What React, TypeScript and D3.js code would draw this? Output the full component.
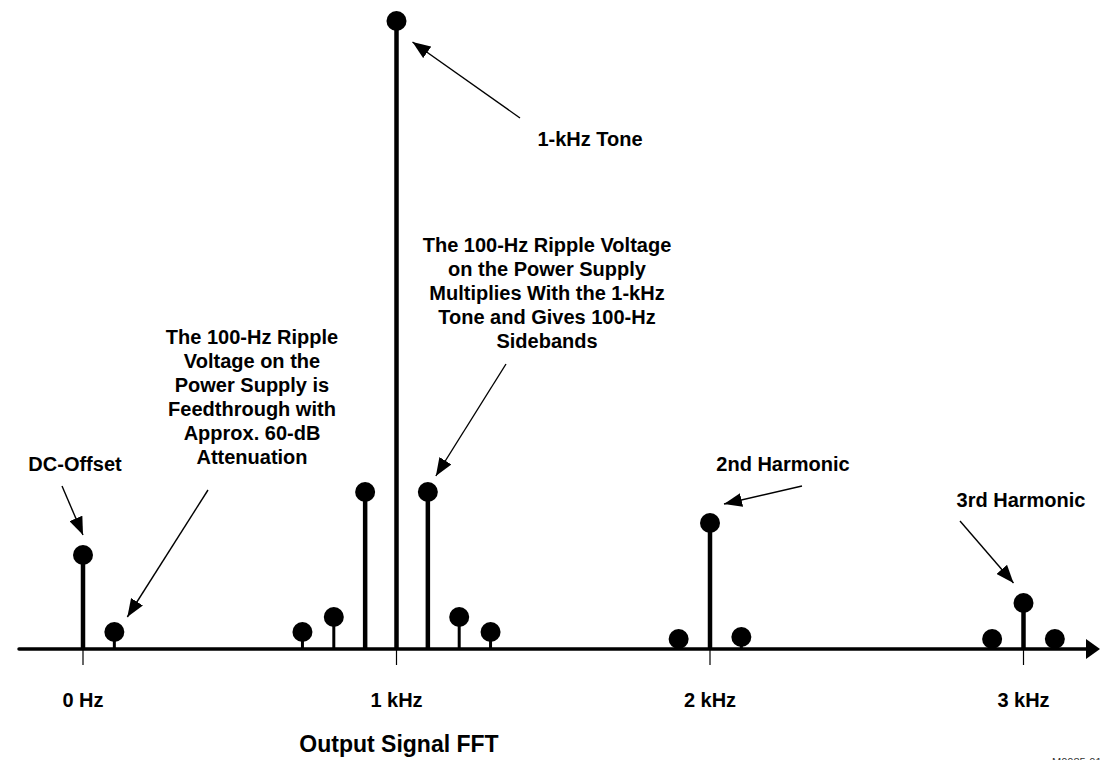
import React from "react";
import { scaleLinear, line } from "d3";

// spectrum lines (Hz) and their relative amplitudes
const freqs = [0, 100, 700, 800, 900, 1000, 1100, 1200, 1300, 1900, 2000, 2100, 2900, 3000, 3100];
const amplitudes = [94, 17, 17, 32, 157, 628, 157, 32, 17, 10, 126, 12, 10, 46, 10];

const tickFreqs = [0, 1000, 2000, 3000];
const tickLabels = ["0 Hz", "1 kHz", "2 kHz", "3 kHz"];

// callouts: which line they point at, and their text
const notes = [
  { target: 0, lines: ["DC-Offset"], tx: 75, ty: 471, from: [62, 486], tip: [0, -20] },
  {
    target: 1,
    lines: ["The 100-Hz Ripple", "Voltage on the", "Power Supply is", "Feedthrough with", "Approx. 60-dB", "Attenuation"],
    tx: 252, ty: 344, from: [208, 490], tip: [13, -15],
  },
  { target: 5, lines: ["1-kHz Tone"], tx: 590, ty: 146, from: [520, 118], tip: [16, 21] },
  {
    target: 6,
    lines: ["The 100-Hz Ripple Voltage", "on the Power Supply", "Multiplies With the 1-kHz", "Tone and Gives 100-Hz", "Sidebands"],
    tx: 547, ty: 252, from: [506, 364], tip: [8, -16],
  },
  { target: 10, lines: ["2nd Harmonic"], tx: 783, ty: 471, from: [802, 486], tip: [14, -19] },
  { target: 13, lines: ["3rd Harmonic"], tx: 1021, ty: 507, from: [960, 521], tip: [-10, -20] },
];

const W = 1103;
const H = 760;
const axisY = 649;
const font = "'Liberation Sans', Arial, sans-serif";

export default function App() {
  const x = scaleLinear().domain([0, 3000]).range([83, 1023.5]);
  const y = scaleLinear().domain([0, 628]).range([axisY, 21]);
  const arrow = line();

  return (
    <svg width={W} height={H} style={{ position: "absolute", left: 0, top: 0, background: "#fff" }}>
      <defs>
        <marker id="head" viewBox="0 0 18 14" refX="18" refY="7" markerWidth="18" markerHeight="14"
          markerUnits="userSpaceOnUse" orient="auto">
          <path d="M0,0 L18,7 L0,14 Z" fill="#000" />
        </marker>
        <marker id="axhead" viewBox="0 0 14 20" refX="2" refY="10" markerWidth="14" markerHeight="20"
          markerUnits="userSpaceOnUse" orient="auto">
          <path d="M0,0 L14,10 L0,20 Z" fill="#000" />
        </marker>
      </defs>

      {/* x axis with arrow */}
      <line x1={19} x2={1088} y1={axisY} y2={axisY} stroke="#000" strokeWidth={3.5}
        strokeLinecap="round" markerEnd="url(#axhead)" />
      {tickFreqs.map((f, i) => (
        <g key={f}>
          <line x1={x(f)} x2={x(f)} y1={axisY} y2={665} stroke="#000" strokeWidth={1.2} />
          <text x={x(f)} y={707} textAnchor="middle" fontFamily={font} fontWeight="bold" fontSize={20}>
            {tickLabels[i]}
          </text>
        </g>
      ))}

      {/* stems */}
      {freqs.map((f, i) => (
        <g key={f}>
          <line x1={x(f)} x2={x(f)} y1={axisY} y2={y(amplitudes[i])} stroke="#000"
            strokeWidth={amplitudes[i] > 40 ? 4.5 : 3} />
          <circle cx={x(f)} cy={y(amplitudes[i])} r={10} fill="#000" />
        </g>
      ))}

      {/* callouts */}
      {notes.map((n, k) => {
        const cx = x(freqs[n.target]);
        const cy = y(amplitudes[n.target]);
        const d = arrow([n.from as [number, number], [cx + n.tip[0], cy + n.tip[1]]]) || "";
        return (
          <g key={k}>
            <path d={d} stroke="#000" strokeWidth={1.4} fill="none" markerEnd="url(#head)" />
            <text textAnchor="middle" fontFamily={font} fontWeight="bold" fontSize={20}>
              {n.lines.map((t, j) => (
                <tspan key={j} x={n.tx} y={n.ty + j * 24}>{t}</tspan>
              ))}
            </text>
          </g>
        );
      })}

      <text x={399} y={752} textAnchor="middle" fontFamily={font} fontWeight="bold" fontSize={23}>
        Output Signal FFT
      </text>
      <text x={1052} y={766} fontFamily={font} fontSize={11} fill="#333">M0085-01</text>
    </svg>
  );
}
